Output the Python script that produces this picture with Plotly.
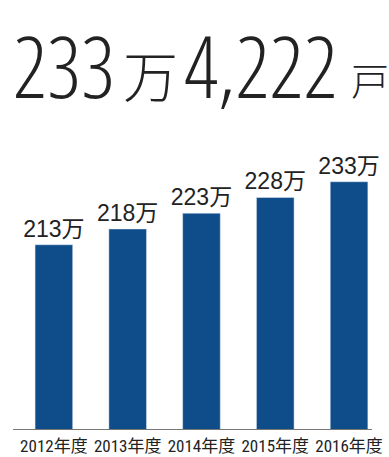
import plotly.graph_objects as go

categories = ["2012年度", "2013年度", "2014年度", "2015年度", "2016年度"]
values = [213, 218, 223, 228, 233]
value_labels = ["213万", "218万", "223万", "228万", "233万"]

headline_num1 = "233"
headline_unit1 = "万"
headline_num2 = "4,222"
headline_unit2 = "戸"

W, H = 389, 457
L, R, T, B = 13, 17, 100, 28
PW, PH = W - L - R, H - T - B


def px(x):
    return (x - L) / PW


def py(y):
    return (H - B - y) / PH


BLUE = "#0e4c8a"
DARK = "#222222"
COND_LIGHT = "Open Sans Condensed Light, Roboto Condensed, sans-serif"
COND = "Roboto Condensed, Noto Sans CJK JP, sans-serif"
CJK = "Noto Sans CJK JP, sans-serif"

fig = go.Figure(
    go.Bar(
        x=categories,
        y=values,
        marker_color=BLUE,
        text=value_labels,
        textposition="outside",
        constraintext="none",
        textfont=dict(family="Liberation Sans, Arial, Noto Sans CJK JP, sans-serif", size=23, color=DARK),
        cliponaxis=False,
        width=0.51,
    )
)

annos = [
    dict(text=headline_num1, x=px(11), y=py(125), font=dict(family=COND_LIGHT, size=85, color=DARK)),
    dict(text=headline_unit1, x=px(121), y=py(115), font=dict(family=CJK, size=55, color=DARK, weight=300)),
    dict(text=headline_num2, x=px(182), y=py(125), font=dict(family=COND_LIGHT, size=85, color=DARK)),
    dict(text=headline_unit2, x=px(348.5), y=py(108), font=dict(family=CJK, size=38, color=DARK, weight=300)),
]
for a in annos:
    a.update(xref="paper", yref="paper", xanchor="left", yanchor="bottom", showarrow=False)

fig.update_layout(
    width=W,
    height=H,
    margin=dict(l=L, r=R, t=T, b=B, autoexpand=False),
    paper_bgcolor="white",
    plot_bgcolor="white",
    showlegend=False,
    annotations=annos,
    xaxis=dict(
        range=[-0.554, 4.311],
        showline=True,
        linecolor="#777777",
        linewidth=1,
        showgrid=False,
        ticks="",
        tickangle=0,
        automargin=False,
        tickfont=dict(family=COND, size=17, color=DARK),
        ticklabelstandoff=2,
    ),
    yaxis=dict(
        range=[154.5, 154.5 + PH / 3.15],
        visible=False,
        showgrid=False,
        automargin=False,
    ),
)

fig.write_html("out.html")
